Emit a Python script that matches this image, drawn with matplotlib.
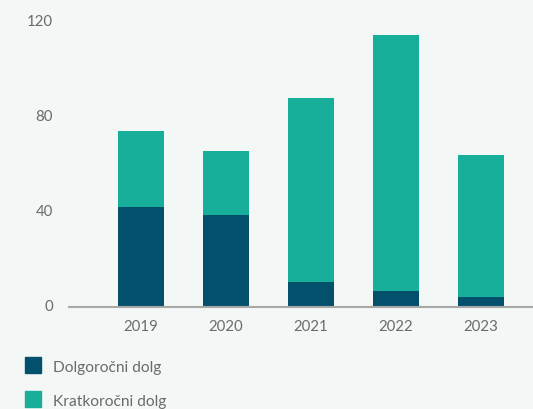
import numpy as np
import matplotlib
matplotlib.use("Agg")
import matplotlib.pyplot as plt
import matplotlib.transforms as mtransforms
from matplotlib.patches import Rectangle

# data
years = ["2019", "2020", "2021", "2022", "2023"]
long_term = [42.1, 38.7, 10.5, 6.7, 4.2]
total = [74.1, 65.7, 88.0, 114.5, 64.0]
short_term = [t - l for t, l in zip(total, long_term)]
y_ticks = [0, 40, 80, 120]
labels = ["Dolgoročni dolg", "Kratkoročni dolg"]

dark = "#02506b"
teal = "#17ae9a"
bg = "#f3f7f6"
grey_text = "#6b6b6b"

plt.rcParams["font.family"] = ["Lato", "DejaVu Sans"]

fig = plt.figure(figsize=(5.33, 4.10), dpi=100, facecolor=bg)
ax = fig.add_axes([69 / 533, 1 - 308 / 410, 1 - 69 / 533, 308 / 410])
ax.set_facecolor(bg)

x = np.arange(len(years))
w = 0.54
ax.bar(x, long_term, width=w, color=dark)
ax.bar(x, short_term, bottom=long_term, width=w, color=teal)

ax.set_xlim(-72 / 85, (533 - 141) / 85)
ax.set_ylim(0, 308 / 2.375)
ax.set_yticks(y_ticks)
ax.set_xticks(x)
ax.set_xticklabels(years)

for s in ["top", "right", "left"]:
    ax.spines[s].set_visible(False)
ax.spines["bottom"].set_color("#a8a8a8")
ax.spines["bottom"].set_linewidth(1.5)

ax.tick_params(axis="both", length=0, labelsize=10.8, labelcolor=grey_text)
ax.tick_params(axis="x", pad=9)
ax.tick_params(axis="y", pad=11.5)
# y labels sit a little above their gridline in the reference
shift = mtransforms.ScaledTranslation(0, 2.5 / 100, fig.dpi_scale_trans)
for lbl in ax.get_yticklabels():
    lbl.set_transform(lbl.get_transform() + shift)

# legend
for i, (lab, col) in enumerate(zip(labels, [dark, teal])):
    top = 358 + i * 34
    fig.add_artist(Rectangle((25 / 533, 1 - (top + 16) / 410), 16 / 533, 16 / 410,
                             transform=fig.transFigure, color=col, clip_on=False))
    fig.text(53 / 533, 1 - (top + 10) / 410, lab, fontsize=11.2, color=grey_text,
             va="center", ha="left")

fig.savefig("out.png", dpi=100, facecolor=bg)
